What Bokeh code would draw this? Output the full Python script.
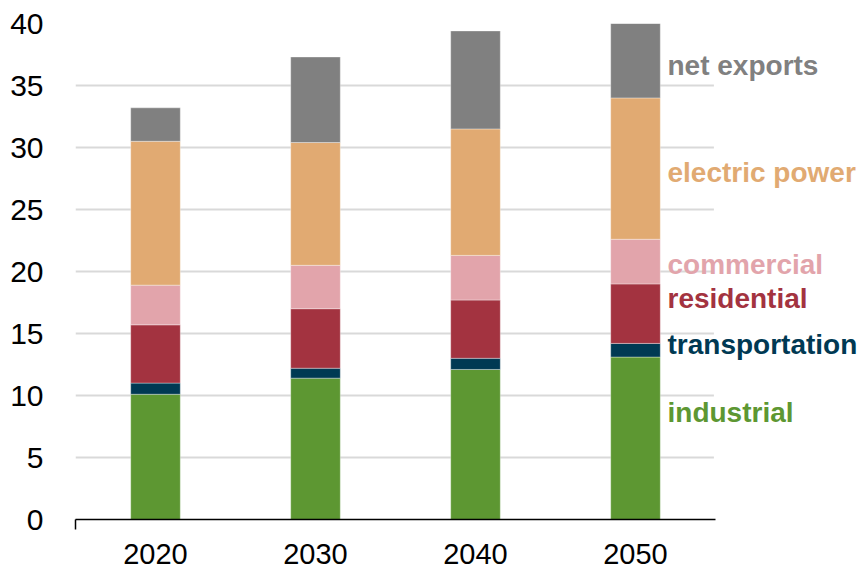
from bokeh.plotting import figure
from bokeh.models import Range1d, FixedTicker, Label, ColumnDataSource, BoxAnnotation
from bokeh.embed import file_html
from bokeh.resources import INLINE

years = ["2020", "2030", "2040", "2050"]
series = ["industrial", "transportation", "residential", "commercial", "electric power", "net exports"]
industrial = [10.1, 11.4, 12.1, 13.1]
transportation = [0.9, 0.8, 0.9, 1.1]
residential = [4.7, 4.8, 4.7, 4.8]
commercial = [3.2, 3.5, 3.6, 3.6]
electric_power = [11.6, 9.9, 10.2, 11.4]
net_exports = [2.7, 6.9, 7.9, 6.0]
colors = ["#5D9732", "#003953", "#A33340", "#E2A4AB", "#E1AA72", "#808080"]
label_y = [8.6, 14.1, 17.85, 20.6, 28.0, 36.6]
y_ticks = [0, 5, 10, 15, 20, 25, 30, 35, 40]

values = [industrial, transportation, residential, commercial, electric_power, net_exports]
n = len(years)
xs = [i + 0.5 for i in range(n)]

W, H = 866, 570
left, right_pad, top, bottom_pad = 75, 151, 23, 51
unit = (W - left - right_pad) / n  # pixels per category

p = figure(width=W, height=H, output_backend="svg", toolbar_location=None,
           x_range=Range1d(0, n + right_pad / unit), y_range=Range1d(0, 40),
           min_border_left=left, min_border_right=0, min_border_top=top,
           min_border_bottom=bottom_pad)
p.outline_line_color = None
p.background_fill_color = "white"
p.border_fill_color = "white"

p.xgrid.visible = False
p.ygrid.grid_line_color = "#D9D9D9"
p.ygrid.grid_line_width = 2
p.ygrid.ticker = FixedTicker(ticks=y_ticks)

stack_bottom = [0.0] * n
for name, vals, col in zip(series, values, colors):
    stack_top = [b + v for b, v in zip(stack_bottom, vals)]
    src = ColumnDataSource(dict(x=xs, bottom=stack_bottom, top=stack_top))
    p.vbar(x="x", bottom="bottom", top="top", width=0.31, source=src,
           fill_color=col, line_color="white", line_alpha=0.35, line_width=1)
    stack_bottom = stack_top

# blank out the gridlines in the label margin to the right of the category area
p.add_layout(BoxAnnotation(left=n - 0.01, fill_color="white", fill_alpha=1.0,
                           line_color=None, level="underlay"))

for name, ly, col in zip(series, label_y, colors):
    p.add_layout(Label(x=3.7, y=ly, text=name, text_color=col, text_font="Liberation Sans",
                       text_font_style="bold", text_font_size="28px",
                       text_align="left", text_baseline="middle"))

ya = p.yaxis[0]
ya.ticker = FixedTicker(ticks=y_ticks)
ya.axis_line_color = None
ya.major_tick_line_color = None
ya.minor_tick_line_color = None
ya.major_label_standoff = 26
ya.major_label_text_font = "Liberation Sans"
ya.major_label_text_font_size = "30px"
ya.major_label_text_color = "black"

xa = p.xaxis[0]
xa.bounds = (0, n)
xa.ticker = FixedTicker(ticks=xs, minor_ticks=[0])
xa.major_label_overrides = {x: y for x, y in zip(xs, years)}
xa.axis_line_color = "black"
xa.axis_line_width = 1.5
xa.major_tick_line_color = None
xa.major_tick_out = 0
xa.major_tick_in = 0
xa.minor_tick_line_color = "black"
xa.minor_tick_line_width = 1.5
xa.minor_tick_out = 10
xa.minor_tick_in = 0
xa.major_label_standoff = 14
xa.major_label_text_font = "Liberation Sans"
xa.major_label_text_font_size = "29px"
xa.major_label_text_color = "black"

open("out.html", "w").write(file_html(p, INLINE))
